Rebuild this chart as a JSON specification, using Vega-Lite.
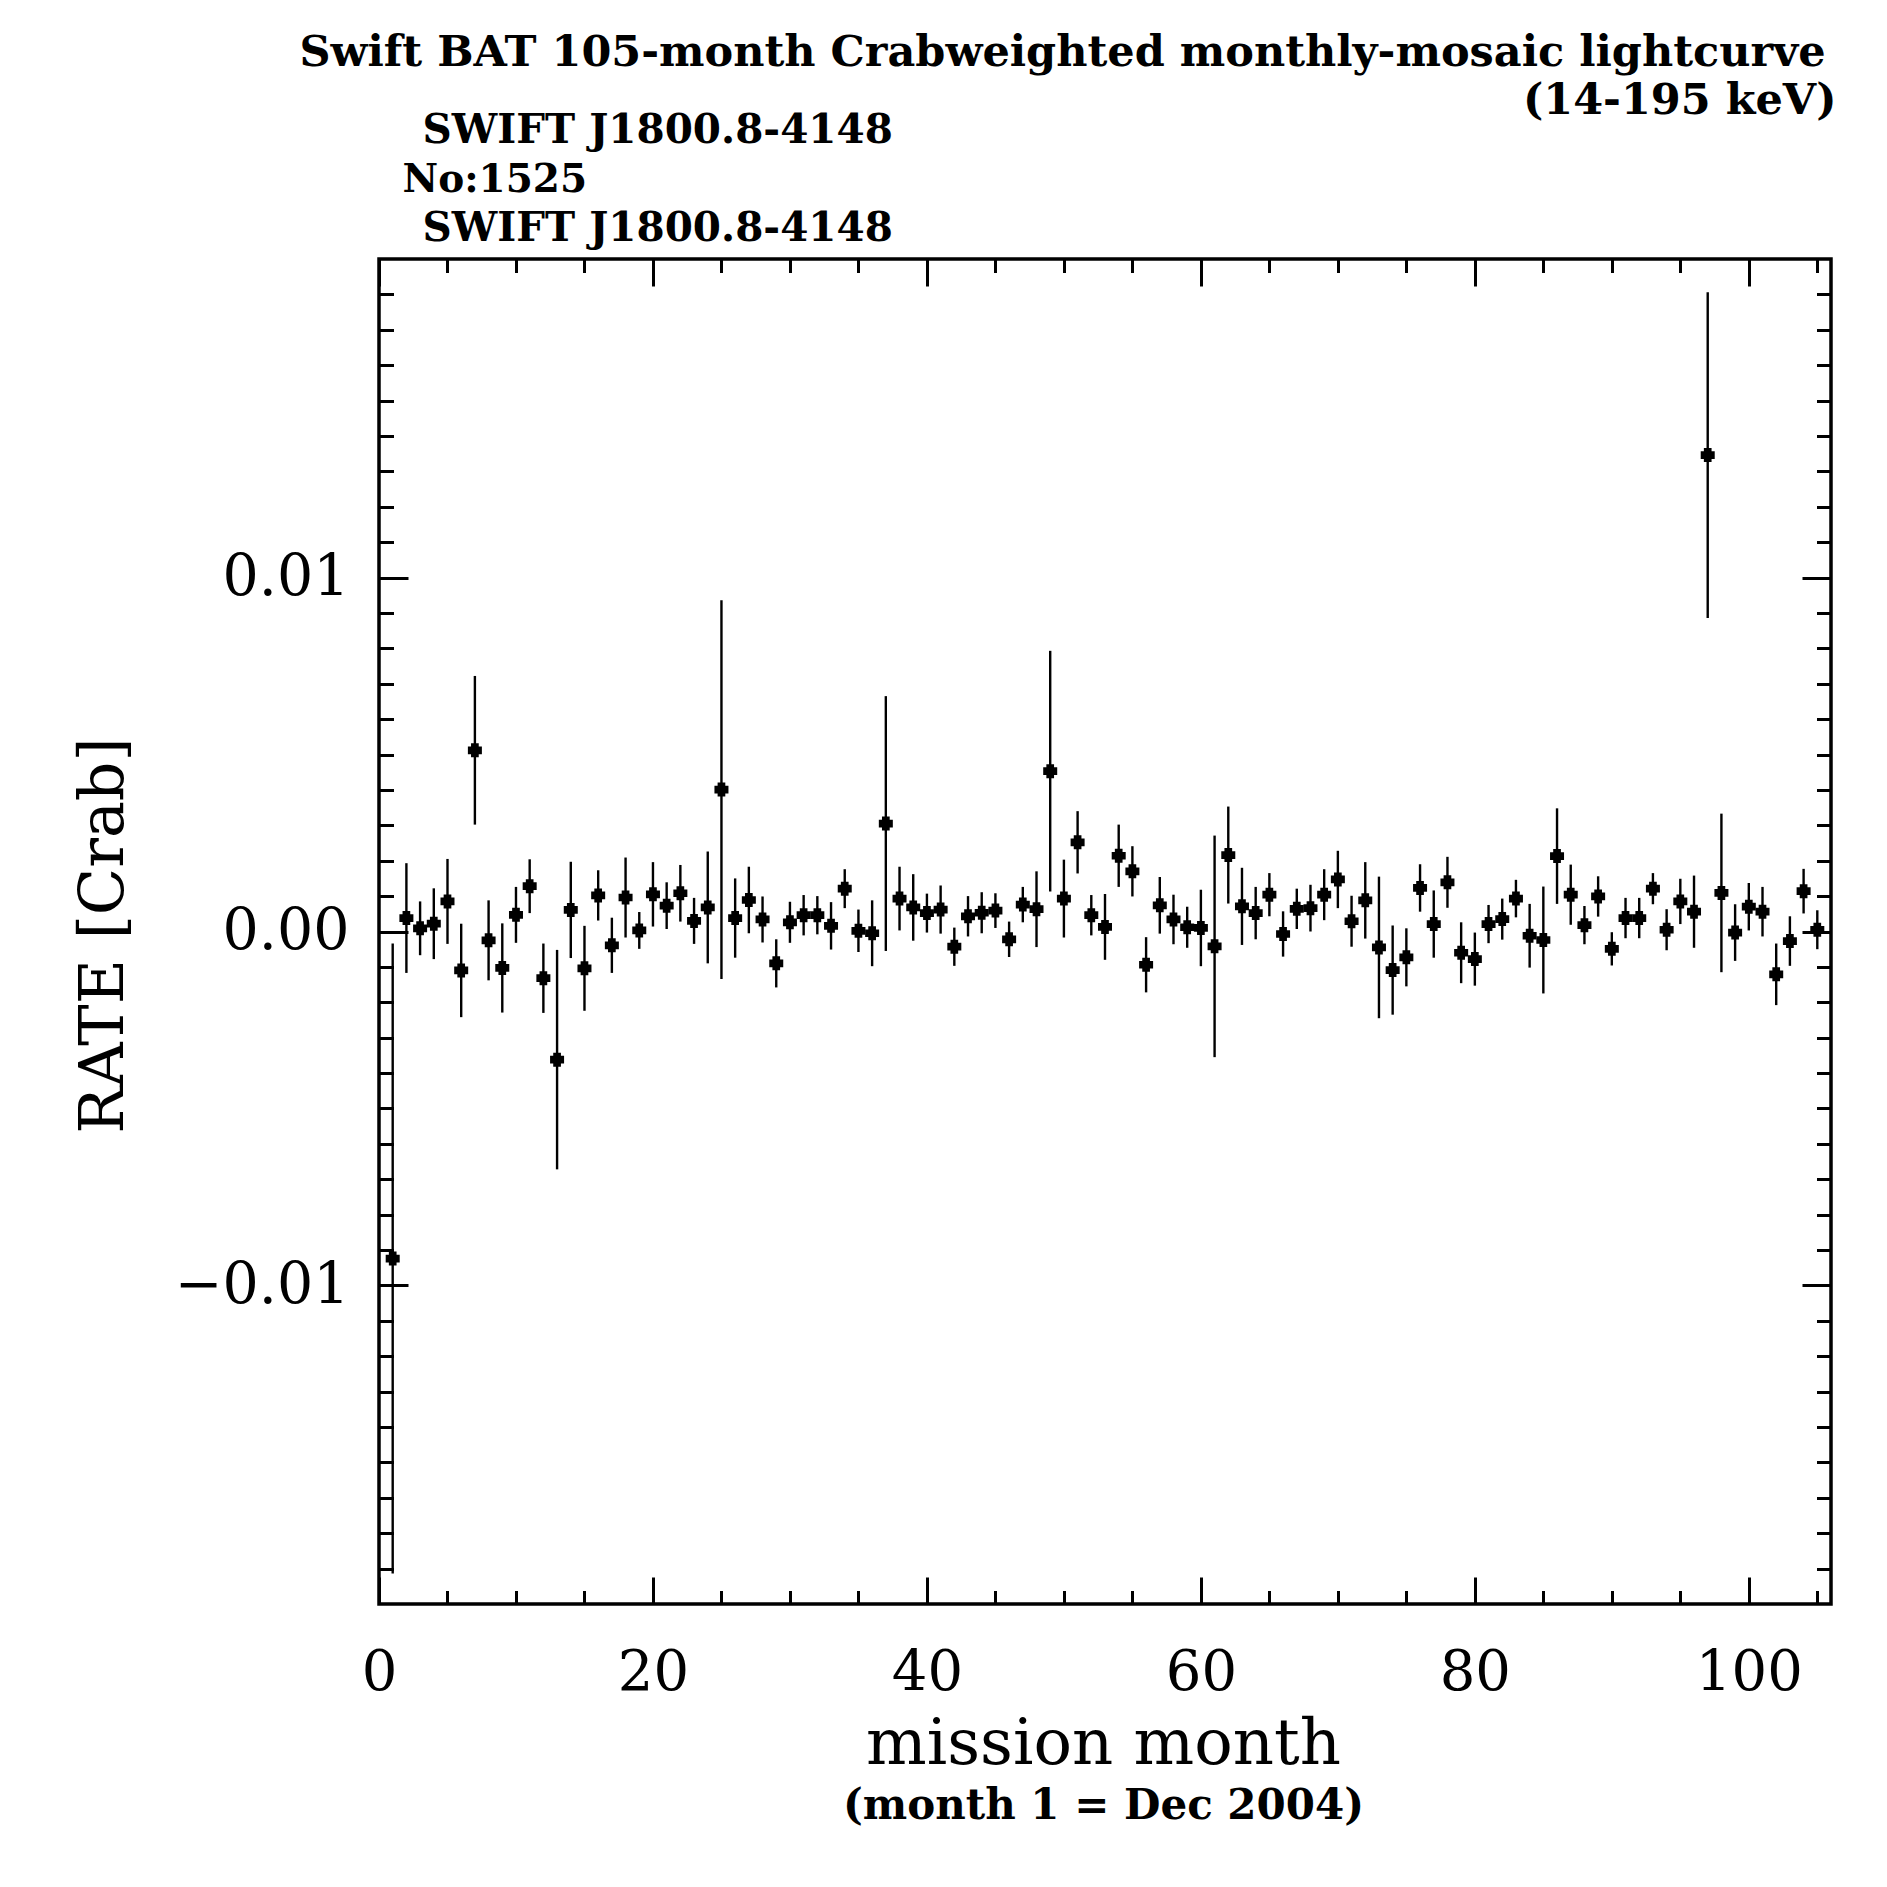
{
  "$schema": "https://vega.github.io/schema/vega-lite/v6.json",
  "width": 1452,
  "height": 1345,
  "autosize": {"type": "none"},
  "padding": {"left": 379, "top": 259, "right": 56, "bottom": 283},
  "background": "white",
  "config": {
    "view": {"stroke": "black", "strokeWidth": 3.5},
    "axis": {"domain": false, "grid": false, "tickColor": "black", "tickWidth": 3, "labelColor": "black", "titleColor": "black", "labelFont": "DejaVu Serif", "titleFont": "DejaVu Serif", "tickCap": "butt"}
  },
  "data": {"values": [
    {"m":1,"r":-0.00924,"lo":-0.01814,"hi":-0.00034},
    {"m":2,"r":0.00038,"lo":-0.00117,"hi":0.00193},
    {"m":3,"r":0.00009,"lo":-0.00067,"hi":0.00085},
    {"m":4,"r":0.00022,"lo":-0.00078,"hi":0.00122},
    {"m":5,"r":0.00085,"lo":-0.00035,"hi":0.00205},
    {"m":6,"r":-0.0011,"lo":-0.00242,"hi":0.00022},
    {"m":7,"r":0.00512,"lo":0.00302,"hi":0.00722},
    {"m":8,"r":-0.00025,"lo":-0.00138,"hi":0.00088},
    {"m":9,"r":-0.00103,"lo":-0.00229,"hi":0.00023},
    {"m":10,"r":0.00047,"lo":-0.00032,"hi":0.00126},
    {"m":11,"r":0.00128,"lo":0.00052,"hi":0.00204},
    {"m":12,"r":-0.00132,"lo":-0.0023,"hi":-0.00034},
    {"m":13,"r":-0.00362,"lo":-0.00672,"hi":-0.00052},
    {"m":14,"r":0.00061,"lo":-0.00075,"hi":0.00197},
    {"m":15,"r":-0.00104,"lo":-0.00224,"hi":0.00016},
    {"m":16,"r":0.00102,"lo":0.00031,"hi":0.00173},
    {"m":17,"r":-0.00039,"lo":-0.00117,"hi":0.00039},
    {"m":18,"r":0.00096,"lo":-0.00017,"hi":0.00209},
    {"m":19,"r":0.00003,"lo":-0.00049,"hi":0.00055},
    {"m":20,"r":0.00105,"lo":0.00014,"hi":0.00196},
    {"m":21,"r":0.00073,"lo":0.00007,"hi":0.00139},
    {"m":22,"r":0.00108,"lo":0.00028,"hi":0.00188},
    {"m":23,"r":0.0003,"lo":-0.00035,"hi":0.00095},
    {"m":24,"r":0.00068,"lo":-0.0009,"hi":0.00226},
    {"m":25,"r":0.00401,"lo":-0.00134,"hi":0.00936},
    {"m":26,"r":0.00038,"lo":-0.00074,"hi":0.0015},
    {"m":27,"r":0.00089,"lo":-0.00005,"hi":0.00183},
    {"m":28,"r":0.00034,"lo":-0.00031,"hi":0.00099},
    {"m":29,"r":-0.0009,"lo":-0.00158,"hi":-0.00022},
    {"m":30,"r":0.00026,"lo":-0.00032,"hi":0.00084},
    {"m":31,"r":0.00046,"lo":-0.00011,"hi":0.00103},
    {"m":32,"r":0.00046,"lo":-0.00008,"hi":0.001},
    {"m":33,"r":0.00016,"lo":-0.00051,"hi":0.00083},
    {"m":34,"r":0.00121,"lo":0.00066,"hi":0.00176},
    {"m":35,"r":0.00002,"lo":-0.00058,"hi":0.00062},
    {"m":36,"r":-0.00005,"lo":-0.00098,"hi":0.00088},
    {"m":37,"r":0.00305,"lo":-0.00055,"hi":0.00665},
    {"m":38,"r":0.00093,"lo":0.00003,"hi":0.00183},
    {"m":39,"r":0.00068,"lo":-0.00026,"hi":0.00162},
    {"m":40,"r":0.00052,"lo":-0.00003,"hi":0.00107},
    {"m":41,"r":0.00062,"lo":-0.00006,"hi":0.0013},
    {"m":42,"r":-0.00043,"lo":-0.00097,"hi":0.00011},
    {"m":43,"r":0.00043,"lo":-0.00014,"hi":0.001},
    {"m":44,"r":0.00053,"lo":-0.00005,"hi":0.00111},
    {"m":45,"r":0.00059,"lo":0.0001,"hi":0.00108},
    {"m":46,"r":-0.00022,"lo":-0.00072,"hi":0.00028},
    {"m":47,"r":0.00076,"lo":0.00026,"hi":0.00126},
    {"m":48,"r":0.00063,"lo":-0.00044,"hi":0.0017},
    {"m":49,"r":0.00453,"lo":0.00113,"hi":0.00793},
    {"m":50,"r":0.00093,"lo":-0.00017,"hi":0.00203},
    {"m":51,"r":0.00252,"lo":0.00164,"hi":0.0034},
    {"m":52,"r":0.00046,"lo":-0.00011,"hi":0.00103},
    {"m":53,"r":0.00013,"lo":-0.0008,"hi":0.00106},
    {"m":54,"r":0.00214,"lo":0.00126,"hi":0.00302},
    {"m":55,"r":0.0017,"lo":0.00099,"hi":0.00241},
    {"m":56,"r":-0.00094,"lo":-0.00172,"hi":-0.00016},
    {"m":57,"r":0.00074,"lo":-0.00006,"hi":0.00154},
    {"m":58,"r":0.00034,"lo":-0.00036,"hi":0.00104},
    {"m":59,"r":0.00012,"lo":-0.00046,"hi":0.0007},
    {"m":60,"r":0.0001,"lo":-0.00098,"hi":0.00118},
    {"m":61,"r":-0.00042,"lo":-0.00355,"hi":0.00271},
    {"m":62,"r":0.00216,"lo":0.00079,"hi":0.00353},
    {"m":63,"r":0.00071,"lo":-0.00038,"hi":0.0018},
    {"m":64,"r":0.00052,"lo":-0.00022,"hi":0.00126},
    {"m":65,"r":0.00104,"lo":0.00043,"hi":0.00165},
    {"m":66,"r":-0.00007,"lo":-0.00071,"hi":0.00057},
    {"m":67,"r":0.00064,"lo":0.00007,"hi":0.00121},
    {"m":68,"r":0.00066,"lo":0.0,"hi":0.00132},
    {"m":69,"r":0.00104,"lo":0.00032,"hi":0.00176},
    {"m":70,"r":0.00147,"lo":0.00066,"hi":0.00228},
    {"m":71,"r":0.00029,"lo":-0.00043,"hi":0.00101},
    {"m":72,"r":0.00088,"lo":-0.0002,"hi":0.00196},
    {"m":73,"r":-0.00045,"lo":-0.00245,"hi":0.00155},
    {"m":74,"r":-0.00109,"lo":-0.00235,"hi":0.00017},
    {"m":75,"r":-0.00073,"lo":-0.00155,"hi":0.00009},
    {"m":76,"r":0.00123,"lo":0.00056,"hi":0.0019},
    {"m":77,"r":0.00021,"lo":-0.00074,"hi":0.00116},
    {"m":78,"r":0.00139,"lo":0.00067,"hi":0.00211},
    {"m":79,"r":-0.0006,"lo":-0.00146,"hi":0.00026},
    {"m":80,"r":-0.00078,"lo":-0.00153,"hi":-0.00003},
    {"m":81,"r":0.00021,"lo":-0.00033,"hi":0.00075},
    {"m":82,"r":0.00035,"lo":-0.00023,"hi":0.00093},
    {"m":83,"r":0.00093,"lo":0.0004,"hi":0.00146},
    {"m":84,"r":-0.00012,"lo":-0.00102,"hi":0.00078},
    {"m":85,"r":-0.00024,"lo":-0.00175,"hi":0.00127},
    {"m":86,"r":0.00213,"lo":0.00078,"hi":0.00348},
    {"m":87,"r":0.00104,"lo":0.00019,"hi":0.00189},
    {"m":88,"r":0.00018,"lo":-0.00036,"hi":0.00072},
    {"m":89,"r":0.00099,"lo":0.00042,"hi":0.00156},
    {"m":90,"r":-0.00049,"lo":-0.00096,"hi":-0.00002},
    {"m":91,"r":0.00038,"lo":-0.00019,"hi":0.00095},
    {"m":92,"r":0.00038,"lo":-0.00019,"hi":0.00095},
    {"m":93,"r":0.00121,"lo":0.00077,"hi":0.00165},
    {"m":94,"r":0.00005,"lo":-0.00053,"hi":0.00063},
    {"m":95,"r":0.00085,"lo":0.00021,"hi":0.00149},
    {"m":96,"r":0.00056,"lo":-0.00046,"hi":0.00158},
    {"m":97,"r":0.01346,"lo":0.00886,"hi":0.01806},
    {"m":98,"r":0.00109,"lo":-0.00115,"hi":0.00333},
    {"m":99,"r":-0.00003,"lo":-0.00083,"hi":0.00077},
    {"m":100,"r":0.0007,"lo":0.00003,"hi":0.00137},
    {"m":101,"r":0.00056,"lo":-0.00014,"hi":0.00126},
    {"m":102,"r":-0.00121,"lo":-0.00208,"hi":-0.00034},
    {"m":103,"r":-0.00027,"lo":-0.00097,"hi":0.00043},
    {"m":104,"r":0.00114,"lo":0.00051,"hi":0.00177},
    {"m":105,"r":0.00005,"lo":-0.0005,"hi":0.0006}
  ]},
  "resolve": {"axis": {"x": "independent", "y": "independent"}},
  "layer": [
    {
      "mark": {"type": "rule", "color": "black", "strokeWidth": 2.4},
      "encoding": {
        "x": {"field": "m", "type": "quantitative",
          "scale": {"domain": [0, 106], "nice": false, "zero": false},
          "axis": {"orient": "bottom", "values": [0, 20, 40, 60, 80, 100], "tickSize": -27, "format": "d", "labelFontSize": 56, "labelPadding": 68, "labelFlush": false,
            "title": "mission month", "titleFontSize": 64, "titleFontWeight": "normal", "titleX": 724, "titleY": 159, "titleAlign": "center", "titleBaseline": "alphabetic", "titleAngle": 0}},
        "y": {"field": "lo", "type": "quantitative",
          "scale": {"domain": [-0.019, 0.019], "nice": false, "zero": false},
          "axis": {"orient": "left", "values": [-0.01, 0, 0.01], "tickSize": -29, "format": ".2f", "labelFontSize": 57, "labelPadding": 59, "labelFlush": false, "labelBaseline": "middle",
            "title": "RATE [Crab]", "titleFontSize": 62, "titleFontWeight": "normal", "titleX": -257, "titleY": 676, "titleAlign": "center", "titleBaseline": "alphabetic", "titleAngle": 270}},
        "y2": {"field": "hi"}
      }
    },
    {
      "mark": {"type": "point", "shape": "M-1,-0.55H-0.55V-1H0.55V-0.55H1V0.55H0.55V1H-0.55V0.55H-1Z", "size": 196, "filled": true, "color": "black", "opacity": 1, "strokeWidth": 0},
      "encoding": {
        "x": {"field": "m", "type": "quantitative",
          "axis": {"orient": "top", "values": [0, 20, 40, 60, 80, 100], "tickSize": -27, "labels": false,
            "title": "SWIFT J1800.8-4148", "titleFontSize": 40.5, "titleFontWeight": "bold", "titleX": 43, "titleY": -117, "titleAlign": "left", "titleBaseline": "alphabetic", "titleAngle": 0}},
        "y": {"field": "r", "type": "quantitative",
          "axis": {"orient": "right", "values": [-0.01, 0, 0.01], "tickSize": -29, "labels": false,
            "title": "Swift BAT 105-month Crabweighted monthly-mosaic lightcurve", "titleFontSize": 43, "titleFontWeight": "bold", "titleX": -6, "titleY": -194, "titleAlign": "right", "titleBaseline": "alphabetic", "titleAngle": 0}}
      }
    },
    {
      "mark": {"type": "point", "opacity": 0},
      "encoding": {
        "x": {"field": "m", "type": "quantitative",
          "axis": {"orient": "bottom", "values": [5, 10, 15, 25, 30, 35, 45, 50, 55, 65, 70, 75, 85, 90, 95, 105], "tickSize": -13.5, "labels": false,
            "title": "(month 1 = Dec 2004)", "titleFontSize": 42, "titleFontWeight": "bold", "titleX": 724, "titleY": 214, "titleAlign": "center", "titleBaseline": "alphabetic", "titleAngle": 0}},
        "y": {"field": "r", "type": "quantitative",
          "axis": {"orient": "left", "values": [-0.018, -0.017, -0.016, -0.015, -0.014, -0.013, -0.012, -0.011, -0.009, -0.008, -0.007, -0.006, -0.005, -0.004, -0.003, -0.002, -0.001, 0.001, 0.002, 0.003, 0.004, 0.005, 0.006, 0.007, 0.008, 0.009, 0.011, 0.012, 0.013, 0.014, 0.015, 0.016, 0.017, 0.018], "tickSize": -14.5, "labels": false,
            "title": "SWIFT J1800.8-4148", "titleFontSize": 40.5, "titleFontWeight": "bold", "titleX": 43, "titleY": -19, "titleAlign": "left", "titleBaseline": "alphabetic", "titleAngle": 0}}
      }
    },
    {
      "mark": {"type": "point", "opacity": 0},
      "encoding": {
        "x": {"field": "m", "type": "quantitative",
          "axis": {"orient": "top", "values": [5, 10, 15, 25, 30, 35, 45, 50, 55, 65, 70, 75, 85, 90, 95, 105], "tickSize": -13.5, "labels": false,
            "title": "No:1525", "titleFontSize": 39, "titleFontWeight": "bold", "titleX": 23, "titleY": -68, "titleAlign": "left", "titleBaseline": "alphabetic", "titleAngle": 0}},
        "y": {"field": "r", "type": "quantitative",
          "axis": {"orient": "right", "values": [-0.018, -0.017, -0.016, -0.015, -0.014, -0.013, -0.012, -0.011, -0.009, -0.008, -0.007, -0.006, -0.005, -0.004, -0.003, -0.002, -0.001, 0.001, 0.002, 0.003, 0.004, 0.005, 0.006, 0.007, 0.008, 0.009, 0.011, 0.012, 0.013, 0.014, 0.015, 0.016, 0.017, 0.018], "tickSize": -14.5, "labels": false,
            "title": "(14-195 keV)", "titleFontSize": 43, "titleFontWeight": "bold", "titleX": 5, "titleY": -146, "titleAlign": "right", "titleBaseline": "alphabetic", "titleAngle": 0}}
      }
    }
  ]
}
